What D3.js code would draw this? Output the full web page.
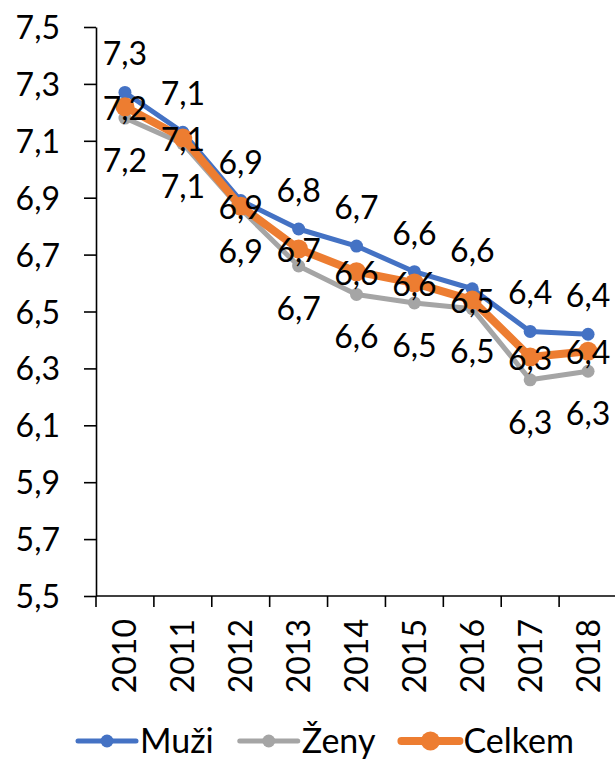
<!DOCTYPE html>
<html>
<head>
<meta charset="utf-8">
<script src="https://cdn.jsdelivr.net/npm/d3@7"></script>
<style>
  html, body { margin: 0; padding: 0; background: #fff; }
  svg { display: block; }
  text { font-family: Lato, "Open Sans", sans-serif; fill: #000; }
</style>
</head>
<body>
<svg id="chart" width="615" height="759"></svg>
<script>
const years = ["2010","2011","2012","2013","2014","2015","2016","2017","2018"];
const muzi   = [7.27, 7.13, 6.89, 6.79, 6.73, 6.64, 6.58, 6.43, 6.42];
const zeny   = [7.18, 7.09, 6.86, 6.66, 6.56, 6.53, 6.51, 6.26, 6.29];
const celkem = [7.22, 7.11, 6.87, 6.72, 6.64, 6.60, 6.54, 6.34, 6.36];
const yTicks = [5.5, 5.7, 5.9, 6.1, 6.3, 6.5, 6.7, 6.9, 7.1, 7.3, 7.5];
const seriesNames = ["Muži", "Ženy", "Celkem"];

(function () {
const fmt = v => d3.format(".1f")(v).replace(".", ",");

const svg = d3.select("#chart");
const pLeft = 96, pRight = 617, pTop = 27, pBottom = 596;
const fs = 32;

const x = d3.scaleBand().domain(years).range([pLeft, pRight]).padding(0);
const y = d3.scaleLinear().domain([5.5, 7.5]).range([pBottom, pTop]);

const series = [
  {name: seriesNames[0], values: muzi,   color: "#4472C4", width: 5, r: 6.5, label: "above"},
  {name: seriesNames[1], values: zeny,   color: "#A5A5A5", width: 5, r: 6.5, label: "below"},
  {name: seriesNames[2], values: celkem, color: "#ED7D31", width: 8, r: 9.5, label: "center"}
];

// Y axis
const yAxis = d3.axisLeft(y).tickValues(yTicks).tickSize(12).tickSizeOuter(0)
  .tickPadding(24).tickFormat(fmt);
const gy = svg.append("g").attr("transform", `translate(${pLeft},0)`).call(yAxis);
gy.select(".domain").attr("stroke", "#000").attr("stroke-width", 1.6);
gy.selectAll(".tick line").attr("stroke", "#000").attr("stroke-width", 1.6);
gy.selectAll(".tick text").attr("font-size", fs).attr("dy", "0.36em")
  .style("font-family", "Lato, 'Open Sans', sans-serif");

// X axis
const gx = svg.append("g");
gx.append("line").attr("x1", pLeft).attr("x2", 615).attr("y1", pBottom).attr("y2", pBottom)
  .attr("stroke", "#000").attr("stroke-width", 1.6);
const boundaries = years.map(d => x(d)).concat([x(years[years.length-1]) + x.bandwidth()]);
gx.selectAll("line.tick").data(boundaries).enter().append("line").attr("class", "tick")
  .attr("x1", d => d).attr("x2", d => d).attr("y1", pBottom).attr("y2", pBottom + 11)
  .attr("stroke", "#000").attr("stroke-width", 1.6);
gx.selectAll("text.xl").data(years).enter().append("text").attr("class", "xl")
  .attr("font-size", fs)
  .attr("text-anchor", "end")
  .attr("transform", d => `translate(${x(d) + x.bandwidth()/2 + 11.5},${pBottom + 23}) rotate(-90)`)
  .text(d => d);

// Lines and markers
const cx = (d, i) => x(years[i]) + x.bandwidth()/2;
series.forEach(s => {
  const line = d3.line().x((d, i) => cx(d, i)).y(d => y(d));
  svg.append("path").datum(s.values).attr("d", line).attr("fill", "none")
    .attr("stroke", s.color).attr("stroke-width", s.width)
    .attr("stroke-linejoin", "round").attr("stroke-linecap", "round");
  svg.append("g").selectAll("circle").data(s.values).enter().append("circle")
    .attr("cx", (d, i) => cx(d, i)).attr("cy", d => y(d)).attr("r", s.r)
    .attr("fill", s.color);
});

// Data labels
series.forEach(s => {
  svg.append("g").selectAll("text").data(s.values).enter().append("text")
    .attr("font-size", fs).attr("text-anchor", "middle")
    .attr("x", (d, i) => cx(d, i))
    .attr("y", d => {
      const py = y(d);
      if (s.label === "above") return py - 27;
      if (s.label === "below") return py + 54;
      return py + 13;
    })
    .text(d => fmt(d));
});

// Legend
const legY = 741;
const lg = svg.append("g");
let cur = 78;
series.forEach((s, i) => {
  const g = lg.append("g");
  g.append("line").attr("x1", cur).attr("x2", cur + 58).attr("y1", legY).attr("y2", legY)
    .attr("stroke", s.color).attr("stroke-width", s.width).attr("stroke-linecap", "round");
  g.append("circle").attr("cx", cur + 29).attr("cy", legY).attr("r", s.r).attr("fill", s.color);
  const t = g.append("text").attr("x", cur + 62).attr("y", legY + 12)
    .attr("font-size", 34).text(s.name);
  const w = t.node().getComputedTextLength();
  cur = cur + 62 + w + 26;
});
})();
</script>
</body>
</html>
